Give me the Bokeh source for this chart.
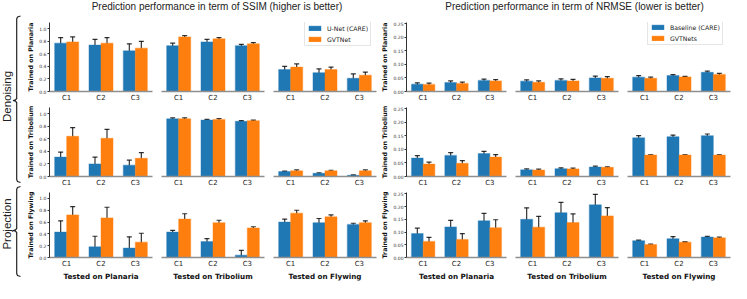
import math
from bokeh.plotting import figure
from bokeh.models import (ColumnDataSource, FactorRange, Range1d, Whisker, TeeHead,
                          FixedTicker, NumeralTickFormatter)
from bokeh.layouts import row, column
from bokeh.transform import dodge
from bokeh.core.properties import value
from bokeh.embed import file_html
from bokeh.resources import INLINE

# ---------------- data ----------------
cats = ["C1", "C2", "C3"]
datasets = ["Planaria", "Tribolium", "Flywing"]

# SSIM; each list: [tested on Planaria, Tribolium, Flywing] x [C1, C2, C3]
ssim_unet_tr_planaria = [[0.77, 0.74, 0.65], [0.73, 0.79, 0.73], [0.35, 0.30, 0.21]]
ssim_unet_tr_planaria_err = [[0.09, 0.09, 0.11], [0.04, 0.04, 0.02], [0.05, 0.06, 0.07]]
ssim_gvt_tr_planaria = [[0.79, 0.77, 0.69], [0.87, 0.84, 0.76], [0.39, 0.35, 0.26]]
ssim_gvt_tr_planaria_err = [[0.08, 0.09, 0.11], [0.02, 0.02, 0.02], [0.05, 0.04, 0.05]]

ssim_unet_tr_tribolium = [[0.31, 0.20, 0.18], [0.92, 0.90, 0.88], [0.08, 0.05, 0.02]]
ssim_unet_tr_tribolium_err = [[0.08, 0.11, 0.08], [0.015, 0.01, 0.01], [0.005, 0.01, 0.005]]
ssim_gvt_tr_tribolium = [[0.64, 0.61, 0.29], [0.92, 0.91, 0.89], [0.09, 0.09, 0.09]]
ssim_gvt_tr_tribolium_err = [[0.14, 0.14, 0.09], [0.015, 0.015, 0.01], [0.015, 0.01, 0.015]]

ssim_unet_tr_flywing = [[0.43, 0.18, 0.16], [0.43, 0.27, 0.04], [0.60, 0.59, 0.56]]
ssim_unet_tr_flywing_err = [[0.19, 0.18, 0.19], [0.03, 0.05, 0.08], [0.05, 0.07, 0.02]]
ssim_gvt_tr_flywing = [[0.72, 0.67, 0.26], [0.65, 0.59, 0.50], [0.75, 0.69, 0.59]]
ssim_gvt_tr_flywing_err = [[0.14, 0.18, 0.15], [0.09, 0.04, 0.02], [0.05, 0.03, 0.03]]

# NRMSE
nrmse_base_tr_planaria = [[0.027, 0.033, 0.041], [0.038, 0.041, 0.050], [0.053, 0.059, 0.071]]
nrmse_base_tr_planaria_err = [[0.005, 0.006, 0.005], [0.005, 0.006, 0.007], [0.006, 0.003, 0.004]]
nrmse_gvt_tr_planaria = [[0.026, 0.030, 0.039], [0.034, 0.039, 0.049], [0.049, 0.054, 0.063]]
nrmse_gvt_tr_planaria_err = [[0.005, 0.005, 0.005], [0.005, 0.006, 0.006], [0.004, 0.002, 0.004]]

nrmse_base_tr_tribolium = [[0.068, 0.078, 0.085], [0.025, 0.029, 0.035], [0.143, 0.147, 0.151]]
nrmse_base_tr_tribolium_err = [[0.009, 0.010, 0.008], [0.003, 0.003, 0.003], [0.008, 0.006, 0.006]]
nrmse_gvt_tr_tribolium = [[0.046, 0.049, 0.072], [0.024, 0.028, 0.034], [0.079, 0.079, 0.079]]
nrmse_gvt_tr_tribolium_err = [[0.007, 0.010, 0.009], [0.003, 0.003, 0.002], [0.001, 0.001, 0.001]]

nrmse_base_tr_flywing = [[0.094, 0.120, 0.144], [0.150, 0.176, 0.207], [0.066, 0.074, 0.080]]
nrmse_base_tr_flywing_err = [[0.021, 0.026, 0.029], [0.045, 0.040, 0.041], [0.002, 0.008, 0.003]]
nrmse_gvt_tr_flywing = [[0.063, 0.071, 0.117], [0.119, 0.137, 0.163], [0.051, 0.060, 0.077]]
nrmse_gvt_tr_flywing_err = [[0.016, 0.023, 0.031], [0.042, 0.034, 0.033], [0.002, 0.001, 0.003]]

ssim_ticks = [0.0, 0.2, 0.4, 0.6, 0.8, 1.0]
nrmse_ticks = [0.0, 0.05, 0.10, 0.15, 0.20, 0.25]

ssim_blue = [ssim_unet_tr_planaria, ssim_unet_tr_tribolium, ssim_unet_tr_flywing]
ssim_blue_err = [ssim_unet_tr_planaria_err, ssim_unet_tr_tribolium_err, ssim_unet_tr_flywing_err]
ssim_orange = [ssim_gvt_tr_planaria, ssim_gvt_tr_tribolium, ssim_gvt_tr_flywing]
ssim_orange_err = [ssim_gvt_tr_planaria_err, ssim_gvt_tr_tribolium_err, ssim_gvt_tr_flywing_err]
nrmse_blue = [nrmse_base_tr_planaria, nrmse_base_tr_tribolium, nrmse_base_tr_flywing]
nrmse_blue_err = [nrmse_base_tr_planaria_err, nrmse_base_tr_tribolium_err, nrmse_base_tr_flywing_err]
nrmse_orange = [nrmse_gvt_tr_planaria, nrmse_gvt_tr_tribolium, nrmse_gvt_tr_flywing]
nrmse_orange_err = [nrmse_gvt_tr_planaria_err, nrmse_gvt_tr_tribolium_err, nrmse_gvt_tr_flywing_err]

# ---------------- styling ----------------
BLUE = "#1f77b4"
ORANGE = "#ff7f0e"
FONT = "DejaVu Sans"
TFONT = "Liberation Sans"

FRAME_W = 103
FRAME_H = 70
ROW_BORDERS = [(8, 12), (3, 12), (3, 21)]   # (top, bottom)


def subplot(r, c, blue, blue_err, orange, orange_err, ymax, ticks, fmt,
            left_border, right_border, legend=None):
    top_b, bot_b = ROW_BORDERS[r]
    lb = left_border if c == 0 else 4
    p = figure(width=lb + FRAME_W + right_border, height=top_b + FRAME_H + bot_b,
               title=None, sizing_mode="fixed",
               x_range=FactorRange(*cats), y_range=Range1d(0, ymax),
               output_backend="svg", toolbar_location=None, tools="",
               y_axis_location="left" if c == 0 else None,
               min_border_left=lb, min_border_right=right_border,
               min_border_top=top_b, min_border_bottom=bot_b)
    p.outline_line_color = None
    p.grid.visible = False
    p.background_fill_color = "white"
    p.border_fill_color = "white"

    b = blue[r][c]
    be = blue_err[r][c]
    o = orange[r][c]
    oe = orange_err[r][c]
    src = ColumnDataSource(dict(
        cat=cats, b=b, o=o,
        bu=[v + e for v, e in zip(b, be)], bl=[max(v - e, 0) for v, e in zip(b, be)],
        ou=[v + e for v, e in zip(o, oe)], ol=[max(v - e, 0) for v, e in zip(o, oe)]))
    kw_b = dict(legend_label=legend[0]) if legend else {}
    kw_o = dict(legend_label=legend[1]) if legend else {}
    p.vbar(x=dodge("cat", -0.175, range=p.x_range), top="b", width=0.35, source=src,
           fill_color=BLUE, line_color=BLUE, line_alpha=0.35, line_width=1.2, **kw_b)
    p.vbar(x=dodge("cat", 0.175, range=p.x_range), top="o", width=0.35, source=src,
           fill_color=ORANGE, line_color=ORANGE, line_alpha=0.35, line_width=1.2, **kw_o)
    for off, up, lo in [(-0.175, "bu", "bl"), (0.175, "ou", "ol")]:
        w = Whisker(source=src, base=dodge("cat", off, range=p.x_range), upper=up, lower=lo,
                    line_color="black", line_alpha=0.8, line_width=1.2,
                    upper_head=TeeHead(size=5, line_color="black", line_alpha=0.8, line_width=1.2),
                    lower_head=TeeHead(size=5, line_color="black", line_alpha=0.8, line_width=1.2))
        p.add_layout(w)

    xa = p.xaxis[0]
    xa.axis_line_color = "#8f8f8f"
    xa.axis_line_width = 1.5
    xa.major_tick_line_color = None
    xa.major_tick_out = 0
    xa.major_tick_in = 0
    xa.minor_tick_line_color = None
    xa.major_label_text_font = FONT
    xa.major_label_text_font_size = "7px"
    xa.major_label_text_color = "#222222"
    xa.major_label_standoff = 2
    if r == 2:
        xa.axis_label = "Tested on " + datasets[c]
        xa.axis_label_text_font = FONT
        xa.axis_label_text_font_size = "7.2px"
        xa.axis_label_text_font_style = "bold"
        xa.axis_label_text_color = "#111111"
        xa.axis_label_standoff = 1
    if c == 0:
        ya = p.yaxis[0]
        ya.ticker = FixedTicker(ticks=ticks)
        ya.formatter = NumeralTickFormatter(format=fmt)
        ya.axis_line_color = "#333333"
        ya.axis_line_width = 1
        ya.major_tick_out = 2
        ya.major_tick_in = 0
        ya.major_tick_line_color = "#333333"
        ya.minor_tick_line_color = None
        ya.major_label_text_font = FONT
        ya.major_label_text_font_size = "4.5px"
        ya.major_label_text_color = "#333333"
        ya.major_label_standoff = 1
        ya.axis_label = "Trained on " + datasets[r]
        ya.axis_label_text_font = FONT
        ya.axis_label_text_font_size = "6.3px"
        ya.axis_label_text_font_style = "bold"
        ya.axis_label_text_color = "#111111"
        ya.axis_label_standoff = 2
    return p


def style_legend(p, loc):
    lg = p.legend[0]
    lg.location = loc
    lg.label_text_font = FONT
    lg.label_text_font_size = "6.2px"
    lg.label_text_color = "#222222"
    lg.glyph_width = 15
    lg.glyph_height = 6
    lg.label_height = 8
    lg.label_standoff = 5
    lg.spacing = 3
    lg.padding = 2
    lg.margin = 0
    lg.border_line_color = "#cccccc"
    lg.border_line_width = 0.8
    lg.background_fill_alpha = 0.85


def panel(blue, blue_err, orange, orange_err, ymax, ticks, fmt, left_border, last_right, legend, loc):
    cols = []
    for c in range(3):
        rb = 5 if c < 2 else last_right
        figs = []
        for r in range(3):
            lgd = legend if (r == 0 and c == 2) else None
            f = subplot(r, c, blue, blue_err, orange, orange_err, ymax, ticks, fmt,
                        left_border, rb, lgd)
            if lgd:
                style_legend(f, loc)
            figs.append(f)
        cols.append(column(*figs, spacing=0, sizing_mode="fixed"))
    return row(*cols, spacing=0, sizing_mode="fixed")


ssim_block = panel(ssim_blue, ssim_blue_err, ssim_orange, ssim_orange_err, 1.1, ssim_ticks, "0.0",
                   28, 2, ("U-Net (CARE)", "GVTNet"), (31, 45))
nrmse_block = panel(nrmse_blue, nrmse_blue_err, nrmse_orange, nrmse_orange_err, 0.255, nrmse_ticks, "0.00",
                    25, 1, ("Baseline (CARE)", "GVTNets"), (20, 46))

# ---------------- titles ----------------
TOTAL_W = 731
title_fig = figure(width=TOTAL_W, height=14, x_range=Range1d(0, TOTAL_W), y_range=Range1d(0, 14),
                   title=None, sizing_mode="fixed",
                   output_backend="svg", toolbar_location=None, tools="",
                   x_axis_location=None, y_axis_location=None,
                   min_border_left=0, min_border_right=0, min_border_top=0, min_border_bottom=0)
title_fig.outline_line_color = None
title_fig.grid.visible = False
title_fig.text(x=[216.5, 574], y=[8, 8],
               text=["Prediction performance in term of SSIM (higher is better)",
                     "Prediction performance in term of NRMSE (lower is better)"],
               text_align="center", text_baseline="middle",
               text_font=value(TFONT), text_font_size="10px", text_color="#222222")

# ---------------- left brackets ----------------
BH = 269  # height of bracket strip (layout y 14..283)
Y0 = 14
br = figure(width=21, height=BH, x_range=Range1d(0, 21), y_range=Range1d(0, BH),
            title=None, sizing_mode="fixed",
            output_backend="svg", toolbar_location=None, tools="",
            x_axis_location=None, y_axis_location=None,
            min_border_left=0, min_border_right=0, min_border_top=0, min_border_bottom=0)
br.outline_line_color = None
br.grid.visible = False


def Y(y):
    return Y0 + BH - y


def brace(top, bot, mid):
    xs = [20, 17, 16.2, 16.2, 15, 12.5, 15, 16.2, 16.2, 17, 20]
    ys = [top, top + 1, top + 3, mid - 2, mid - 0.6, mid, mid + 0.6, mid + 2, bot - 3, bot - 1, bot]
    return xs, [Y(v) for v in ys]


bx1, by1 = brace(15.5, 182, 100)
bx2, by2 = brace(186, 276, 230)
br.multi_line(xs=[bx1, bx2], ys=[by1, by2], line_color="#222222", line_width=1.2)
br.text(x=[6.5, 6.5], y=[Y(96), Y(223.5)], text=["Denoising", "Projection"],
        angle=math.pi / 2, text_align="center", text_baseline="middle",
        text_font=value(TFONT), text_font_size="11.5px", text_color="#222222")

layout = column(title_fig, row(br, ssim_block, nrmse_block, spacing=0, sizing_mode="fixed"),
                spacing=0, sizing_mode="fixed")

open("out.html", "w").write(file_html(layout, INLINE))
